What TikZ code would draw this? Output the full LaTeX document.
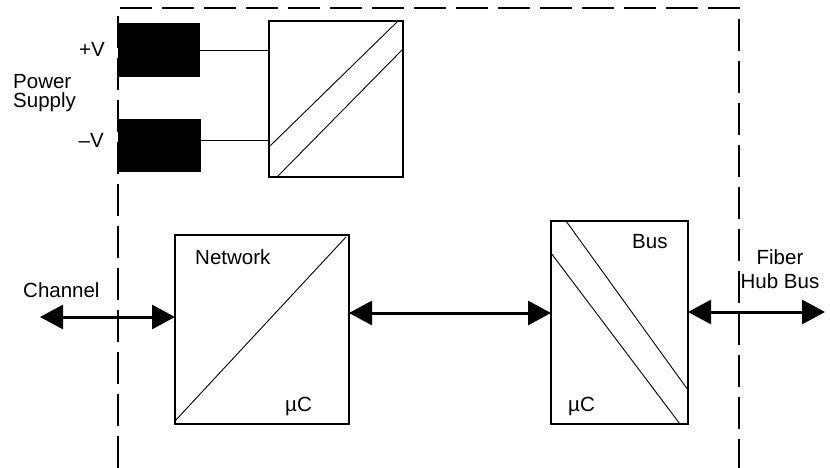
\documentclass[tikz,border=0pt]{standalone}
\usepackage{fontspec}
\setmainfont{Liberation Sans}
\usetikzlibrary{arrows.meta}
\begin{document}
\begin{tikzpicture}[x=1pt,y=-1pt,
  box/.style={draw, line width=1.2pt, inner sep=0pt, outer sep=0pt, anchor=north west},
  blk/.style={fill=black, inner sep=0pt, outer sep=0pt, anchor=north west},
  lbl/.style={font=\fontsize{20.5}{19}\selectfont, inner sep=0pt},
  thinline/.style={line width=0.9pt},
  busarrow/.style={line width=3pt, {Triangle[length=23pt,width=24pt]}-{Triangle[length=23pt,width=24pt]}},
  boundary/.style={line width=1.3pt, dash pattern=on 32pt off 10pt}]
\useasboundingbox (0,0) rectangle (830,468);
% boundary
\draw[boundary] (118,468) -- (118,8) -- (739,8) -- (739,468);
% power supply blocks
\node[blk, minimum width=82pt, minimum height=54pt] (pv) at (118,23) {};
\node[blk, minimum width=83pt, minimum height=53pt] (nv) at (118,119) {};
\node[box, minimum width=134pt, minimum height=156pt] (conv) at (269,21) {};
\draw[thinline] (269,147) -- (397,22);
\draw[thinline] (277,177) -- (403,49);
\draw[thinline] (pv.east) -- (pv.east -| conv.west);
\coordinate (nvout) at ([yshift=-21pt]nv.north east);
\draw[thinline] (nvout) -- (nvout -| conv.west);
\node[lbl, anchor=base east] (pvl) at (105,57) {+V};
\node[lbl, anchor=base east] (nvl) at (104,147) {–V};
\node[lbl, anchor=north west, align=left] (ps) at (13,74) {Power\\Supply};
% network block
\node[box, minimum width=174pt, minimum height=189pt] (net) at (175,235) {};
\draw[thinline] (175,421) -- (346,237);
\node[lbl, anchor=base west] (netl) at (195,264) {Network};
\node[lbl, anchor=base west] (netuc) at (285,411) {µC};
% bus block
\node[box, minimum width=137pt, minimum height=203pt] (busb) at (551,221) {};
\draw[thinline] (566,221) -- (688,390);
\draw[thinline] (551,253) -- (680,424);
\node[lbl, anchor=base west] (busl) at (632,248) {Bus};
\node[lbl, anchor=base west] (busuc) at (568,411) {µC};
% arrows
\coordinate (chL) at (40,317);
\draw[busarrow] (chL) -- (net.west |- chL);
\node[lbl, anchor=base west] (chl) at (23,297) {Channel};
\coordinate (mid) at (450,313);
\draw[busarrow] (net.east |- mid) -- (busb.west |- mid);
\coordinate (fbR) at (825,312);
\draw[busarrow] (busb.east |- fbR) -- (fbR);
\node[lbl, anchor=north, align=center, font=\fontsize{20.5}{24}\selectfont] (fhb) at (780,249) {Fiber\\Hub Bus};
\end{tikzpicture}
\end{document}
